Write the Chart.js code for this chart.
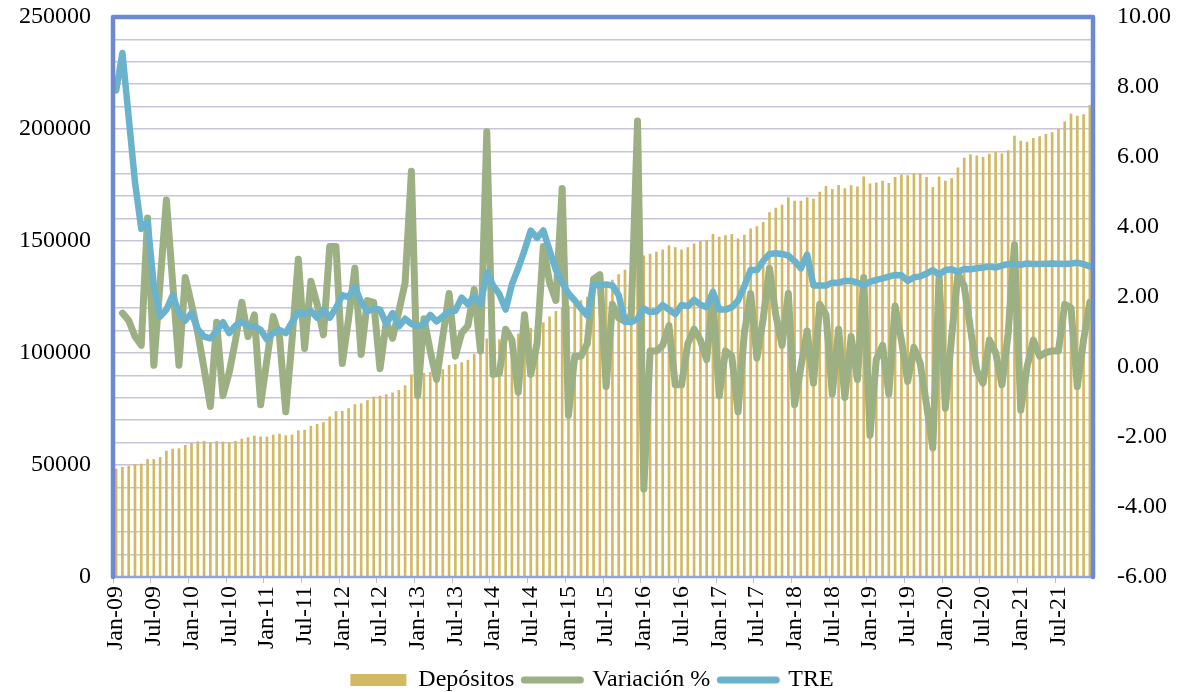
<!DOCTYPE html>
<html>
<head>
<meta charset="utf-8">
<script src="https://cdn.jsdelivr.net/npm/chart.js@4.4.1/dist/chart.umd.min.js"></script>
<style>
  html, body { margin: 0; padding: 0; background: #fff; }
  #wrap { width: 1184px; height: 692px; }
</style>
</head>
<body>
<div id="wrap"><canvas id="myChart" width="1184" height="692"></canvas></div>
<script>
// monthly categories Jan-09 .. Dec-21
var monthNames = ['Jan', 'Feb', 'Mar', 'Apr', 'May', 'Jun', 'Jul', 'Aug', 'Sep', 'Oct', 'Nov', 'Dec'];
var years = ['09', '10', '11', '12', '13', '14', '15', '16', '17', '18', '19', '20', '21'];

// Depósitos (left axis)
var depositos = [
  48200, 49000, 49500, 50300, 50400, 52500, 52500, 53400, 56200, 57100, 57300, 58800,
  59700, 60400, 60600, 60000, 60600, 60300, 60000, 60600, 61600, 62200, 62900, 62500,
  62500, 63400, 63800, 63100, 63400, 65300, 65600, 67300, 68200, 69000, 71500, 73900,
  74000, 75200, 77000, 77400, 78800, 80400, 80800, 81400, 82200, 83300, 85400, 90300,
  90400, 91000, 91300, 92000, 92600, 94500, 94900, 95700, 96800, 99400, 100200, 106300,
  106000, 105900, 106200, 107000, 108500, 110000, 111000, 112000, 113500, 116200, 118600, 120000,
  121000, 122500, 123400, 125000, 127500, 130000, 131000, 132500, 135000, 137000, 139000, 141000,
  143400, 144200, 145000, 146100, 147800, 147100, 146100, 147100, 148700, 149800, 150200, 153000,
  151800, 152400, 153000, 151000, 152600, 155400, 156400, 158300, 162700, 164700, 166000, 169400,
  167800, 167800, 169400, 168700, 171800, 174400, 173100, 174800, 173400, 174700, 174200, 178700,
  175500, 176000, 176800, 175800, 178400, 179500, 179200, 180100, 180000, 178400, 174000, 178700,
  176800, 177900, 182700, 187000, 188600, 188000, 187300, 188800, 189600, 188900, 190400, 196800,
  194600, 194200, 195800, 196600, 197600, 198400, 199800, 203200, 206700, 205800, 206400, 210600
];

// Variación % (right axis)
var variacion = [
  null, 1.54, 1.33, 0.87, 0.62, 4.26, 0.05, 2.41, 4.77, 2.41, 0.05, 2.56,
  1.79, 0.97, -0.05, -1.13, 1.28, -0.82, -0.15, 0.77, 1.85, 0.87, 1.49, -1.08,
  0.21, 1.44, 0.87, -1.28, 0.77, 3.08, 0.53, 2.45, 1.79, 0.92, 3.44, 3.44,
  0.10, 1.38, 2.82, 0.36, 1.90, 1.85, -0.05, 1.28, 0.82, 1.59, 2.41, 5.59,
  -0.82, 1.38, 0.46, -0.36, 0.87, 2.10, 0.31, 0.97, 1.18, 2.21, 0.46, 6.72,
  -0.21, -0.18, 1.08, 0.77, -0.72, 1.49, -0.21, 0.67, 3.44, 2.41, 1.90, 5.10,
  -1.38, 0.31, 0.31, 0.67, 2.51, 2.64, -0.56, 1.79, 1.40, 1.30, 1.49, 7.03,
  -3.49, 0.46, 0.46, 0.62, 1.18, -0.51, -0.51, 0.67, 1.08, 0.77, 0.21, 2.00,
  -0.82, 0.46, 0.31, -1.28, 0.97, 2.10, 0.26, 1.38, 2.82, 1.49, 0.62, 2.10,
  -1.08, 0.00, 1.03, -0.46, 1.79, 1.49, -0.77, 1.08, -0.87, 0.87, -0.36, 2.56,
  -1.95, 0.21, 0.62, -0.77, 1.74, 0.77, -0.41, 0.56, 0.10, -1.08, -2.31, 2.62,
  -1.18, 0.87, 2.67, 2.31, 1.08, -0.10, -0.46, 0.77, 0.41, -0.51, 0.97, 3.49,
  -1.23, 0.00, 0.77, 0.31, 0.41, 0.46, 0.46, 1.79, 1.69, -0.56, 0.77, 1.85
];

// TRE (right axis)
var tre = [
  7.90, 8.97, 7.13, 5.28, 3.95, 4.15, 2.31, 1.44, 1.64, 2.05, 1.54, 1.33,
  1.54, 1.08, 0.87, 0.82, 1.03, 1.28, 0.97, 1.18, 1.30, 1.16, 1.16, 1.06,
  0.79, 0.97, 1.06, 0.97, 1.28, 1.57, 1.50, 1.60, 1.41, 1.64, 1.41, 1.69,
  2.05, 2.00, 2.29, 1.85, 1.59, 1.67, 1.64, 1.23, 1.54, 1.16, 1.38, 1.23,
  1.16, 1.23, 1.49, 1.30, 1.44, 1.59, 1.61, 1.98, 1.79, 2.02, 1.79, 2.70,
  2.33, 2.08, 1.64, 2.36, 2.82, 3.33, 3.90, 3.69, 3.90, 3.33, 2.77, 2.41,
  2.10, 1.90, 1.67, 1.47, 2.36, 2.33, 2.36, 2.33, 2.05, 1.30, 1.28, 1.38,
  1.67, 1.57, 1.59, 1.77, 1.64, 1.51, 1.77, 1.74, 1.92, 1.78, 1.71, 2.15,
  1.64, 1.64, 1.71, 1.90, 2.31, 2.77, 2.77, 3.03, 3.23, 3.25, 3.23, 3.18,
  3.03, 2.82, 3.21, 2.33, 2.33, 2.33, 2.41, 2.41, 2.46, 2.46, 2.41, 2.33,
  2.43, 2.49, 2.53, 2.58, 2.63, 2.62, 2.46, 2.56, 2.59, 2.67, 2.77, 2.64,
  2.77, 2.79, 2.72, 2.80, 2.79, 2.82, 2.84, 2.87, 2.84, 2.90, 2.94, 2.94,
  2.92, 2.96, 2.94, 2.94, 2.95, 2.96, 2.95, 2.94, 2.96, 2.98, 2.94, 2.87
];

var labels = [];
years.forEach(function (y) {
  monthNames.forEach(function (m) { labels.push(m + '-' + y); });
});

var serif = "'Liberation Serif', 'Times New Roman', serif";

// blue frame around the plot area
var plotFrame = {
  id: 'plotFrame',
  afterDatasetsDraw: function (chart) {
    var a = chart.chartArea, ctx = chart.ctx;
    ctx.save();
    ctx.lineCap = 'round';
    ctx.lineJoin = 'round';
    ctx.strokeStyle = '#8FA3DE';
    ctx.lineWidth = 2.5;
    ctx.beginPath();
    ctx.moveTo(a.left, a.bottom);
    ctx.lineTo(a.right, a.bottom);
    ctx.stroke();
    ctx.strokeStyle = '#6D89D2';
    ctx.lineWidth = 4.5;
    ctx.beginPath();
    ctx.moveTo(a.left, a.bottom);
    ctx.lineTo(a.left, a.top);
    ctx.lineTo(a.right, a.top);
    ctx.lineTo(a.right, a.bottom);
    ctx.stroke();
    ctx.restore();
  }
};

// keep the tick padding from pushing the plot area down
function fitY(width) {
  return function (s) {
    s.width = width;
    s.paddingTop = 14;
    s.paddingBottom = 14;
  };
}

var ctx = document.getElementById('myChart');
var myChart = new Chart(ctx, {
  type: 'bar',
  data: {
    labels: labels,
    datasets: [{
      label: 'Depósitos',
      data: depositos,
      backgroundColor: '#D2B962',
      borderWidth: 0,
      barThickness: 2,
      yAxisID: 'y',
      order: 3
    }, {
      type: 'line',
      label: 'Variación %',
      data: variacion,
      borderColor: '#9CB084',
      backgroundColor: '#9CB084',
      borderWidth: 7,
      pointRadius: 0,
      tension: 0,
      borderJoinStyle: 'round',
      borderCapStyle: 'round',
      yAxisID: 'y1',
      order: 2
    }, {
      type: 'line',
      label: 'TRE',
      data: tre,
      borderColor: '#6BB2CC',
      backgroundColor: '#6BB2CC',
      borderWidth: 6.5,
      pointRadius: 0,
      tension: 0,
      borderJoinStyle: 'round',
      borderCapStyle: 'round',
      yAxisID: 'y1',
      order: 1
    }]
  },
  options: {
    responsive: false,
    animation: false,
    devicePixelRatio: 1,
    layout: { padding: { top: 17, bottom: -10, left: 0, right: 0 } },
    plugins: {
      tooltip: { enabled: false },
      legend: {
        position: 'bottom',
        reverse: true,
        labels: {
          usePointStyle: true,
          pointStyleWidth: 56,
          boxHeight: 12,
          padding: 10,
          color: '#000',
          font: { family: serif, size: 24 },
          generateLabels: function (chart) {
            var items = Chart.defaults.plugins.legend.labels.generateLabels(chart);
            items.forEach(function (it) {
              var ds = chart.data.datasets[it.datasetIndex];
              if (ds.type === 'line') {
                it.pointStyle = 'line';
                it.strokeStyle = ds.borderColor;
                it.lineWidth = 7;
                it.lineCap = 'round';
              } else {
                it.pointStyle = 'rect';
                it.lineWidth = 0;
              }
            });
            return items;
          }
        }
      }
    },
    scales: {
      x: {
        offset: true,
        border: { display: false },
        grid: {
          offset: true,
          drawOnChartArea: false,
          tickLength: 6,
          lineWidth: 1,
          color: function (c) { return c.index % 6 === 0 ? '#BFBFBF' : 'rgba(0,0,0,0)'; }
        },
        ticks: {
          autoSkip: false,
          minRotation: 90,
          maxRotation: 90,
          padding: 3,
          color: '#000',
          font: { family: serif, size: 24 },
          callback: function (v, i) { return i % 6 === 0 ? labels[i] : ''; }
        },
        afterFit: function (s) { s.height = 81; }
      },
      y: {
        position: 'left',
        min: 0,
        max: 250000,
        border: { display: false },
        grid: { color: '#C8C3D6', lineWidth: 1.5, drawTicks: false },
        ticks: {
          stepSize: 10000,
          autoSkip: false,
          padding: 22,
          color: '#000',
          font: { family: serif, size: 24 },
          callback: function (v) { return v % 50000 === 0 ? String(v) : ''; }
        },
        afterFit: fitY(113)
      },
      y1: {
        position: 'right',
        min: -6,
        max: 10,
        border: { display: false },
        grid: { display: false, drawTicks: false },
        ticks: {
          stepSize: 2,
          padding: 24,
          color: '#000',
          font: { family: serif, size: 24 },
          callback: function (v) { return v.toFixed(2); }
        },
        afterFit: fitY(91)
      }
    }
  },
  plugins: [plotFrame]
});
</script>
</body>
</html>
